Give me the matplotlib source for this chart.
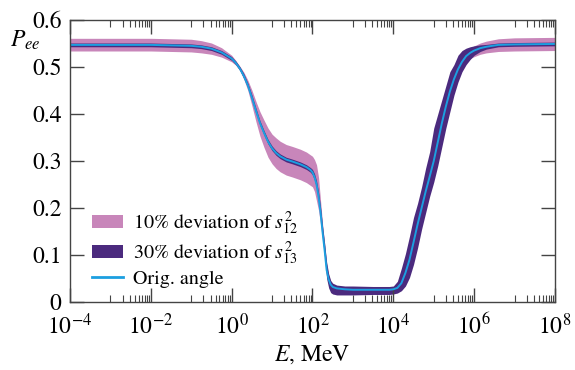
import numpy as np
import matplotlib
matplotlib.use("Agg")
import matplotlib.pyplot as plt
from matplotlib.patches import Patch
from matplotlib.lines import Line2D

plt.rcParams['font.family'] = ['STIXGeneral', 'DejaVu Serif']
plt.rcParams['mathtext.fontset'] = 'stix'

# log10(E / MeV)
log_e = [-4, -2, -1.5, -1, -0.75, -0.5, -0.25, 0, 0.1, 0.2, 0.3, 0.4, 0.5, 0.6, 0.7, 0.8,
         0.9, 1.0, 1.1, 1.2, 1.35, 1.5, 1.7, 1.85, 1.95, 2.0, 2.05, 2.1, 2.15, 2.2, 2.25,
         2.3, 2.35, 2.4, 2.45, 2.5, 2.6, 2.8, 3.0, 3.5, 3.9, 4.0, 4.1, 4.2, 4.3, 4.4, 4.5,
         4.6, 4.7, 4.8, 4.9, 5.0, 5.1, 5.2, 5.3, 5.4, 5.5, 5.6, 5.7, 5.8, 5.9, 6.0, 6.15,
         6.3, 6.6, 7.0, 8.0]

p_orig = [0.547, 0.547, 0.546, 0.545, 0.543, 0.539, 0.531, 0.518, 0.509, 0.497, 0.481,
          0.461, 0.435, 0.407, 0.381, 0.360, 0.341, 0.327, 0.317, 0.310, 0.303, 0.299,
          0.293, 0.287, 0.281, 0.276, 0.266, 0.250, 0.224, 0.190, 0.148, 0.110, 0.068,
          0.048, 0.037, 0.032, 0.029, 0.027, 0.026, 0.026, 0.026, 0.027, 0.030, 0.040,
          0.062, 0.090, 0.127, 0.165, 0.200, 0.235, 0.267, 0.300, 0.340, 0.380, 0.416,
          0.448, 0.474, 0.495, 0.511, 0.523, 0.530, 0.535, 0.540, 0.543, 0.547, 0.548, 0.549]

s12_lo = [0.534, 0.534, 0.533, 0.532, 0.530, 0.527, 0.521, 0.511, 0.504, 0.493, 0.474,
          0.450, 0.418, 0.384, 0.353, 0.329, 0.308, 0.294, 0.284, 0.277, 0.270, 0.266,
          0.260, 0.254, 0.248, 0.245, 0.235, 0.215, 0.195, 0.165, 0.130, 0.095, 0.058,
          0.042, 0.033, 0.029, 0.026, 0.024, 0.023, 0.023, 0.023, 0.024, 0.026, 0.034,
          0.056, 0.084, 0.121, 0.159, 0.194, 0.229, 0.261, 0.294, 0.334, 0.374, 0.410,
          0.442, 0.468, 0.489, 0.503, 0.512, 0.518, 0.522, 0.527, 0.530, 0.533, 0.534, 0.535]
s12_hi = [0.561, 0.561, 0.560, 0.559, 0.556, 0.551, 0.541, 0.525, 0.514, 0.502, 0.489,
          0.472, 0.451, 0.427, 0.405, 0.387, 0.370, 0.357, 0.349, 0.342, 0.335, 0.331,
          0.325, 0.319, 0.313, 0.310, 0.303, 0.292, 0.265, 0.215, 0.165, 0.125, 0.080,
          0.056, 0.042, 0.036, 0.032, 0.030, 0.029, 0.029, 0.029, 0.030, 0.034, 0.046,
          0.068, 0.096, 0.133, 0.171, 0.206, 0.241, 0.273, 0.306, 0.346, 0.386, 0.422,
          0.454, 0.480, 0.501, 0.519, 0.530, 0.538, 0.545, 0.551, 0.555, 0.560, 0.562, 0.563]

s13_lo = [0.543, 0.543, 0.542, 0.541, 0.539, 0.535, 0.527, 0.514, 0.505, 0.493, 0.476,
          0.456, 0.429, 0.401, 0.376, 0.355, 0.336, 0.322, 0.312, 0.305, 0.298, 0.294,
          0.288, 0.282, 0.276, 0.270, 0.259, 0.242, 0.214, 0.178, 0.135, 0.095, 0.050,
          0.030, 0.020, 0.017, 0.015, 0.015, 0.015, 0.016, 0.016, 0.017, 0.019, 0.024,
          0.034, 0.052, 0.080, 0.115, 0.155, 0.190, 0.225, 0.255, 0.290, 0.330, 0.370,
          0.405, 0.440, 0.468, 0.490, 0.505, 0.516, 0.525, 0.533, 0.538, 0.543, 0.544, 0.545]
s13_hi = [0.551, 0.551, 0.550, 0.549, 0.547, 0.543, 0.535, 0.522, 0.513, 0.501, 0.486,
          0.466, 0.441, 0.413, 0.386, 0.365, 0.346, 0.332, 0.322, 0.315, 0.308, 0.304,
          0.298, 0.292, 0.286, 0.282, 0.273, 0.258, 0.234, 0.202, 0.161, 0.125, 0.085,
          0.060, 0.046, 0.040, 0.036, 0.034, 0.034, 0.033, 0.033, 0.034, 0.044, 0.072,
          0.103, 0.140, 0.180, 0.210, 0.245, 0.285, 0.320, 0.370, 0.400, 0.430, 0.460,
          0.490, 0.505, 0.525, 0.535, 0.540, 0.543, 0.545, 0.547, 0.548, 0.551, 0.552, 0.553]

c_s12 = '#c886ba'
c_s13 = '#4b2a7e'
c_orig = '#1c9fe0'

energy = [10.0 ** v for v in log_e]

fig = plt.figure(figsize=(5.75, 3.70), dpi=100)
ax = fig.add_axes([0.1217, 0.1838, 0.8435, 0.7622])

ax.fill_between(energy, s12_lo, s12_hi, color=c_s12, lw=0)
ax.fill_between(energy, s13_lo, s13_hi, color=c_s13, lw=0)
ax.plot(energy, p_orig, color=c_orig, lw=1.4)

ax.set_xscale('log')
ax.set_xlim(1e-4, 1e8)
ax.set_ylim(0, 0.6)
major_x = [1e-4, 1e-2, 1e0, 1e2, 1e4, 1e6, 1e8]
ax.set_xticks(major_x)
ax.set_xticklabels([r'$10^{-4}$', r'$10^{-2}$', r'$10^{0}$', r'$10^{2}$',
                    r'$10^{4}$', r'$10^{6}$', r'$10^{8}$'])
minor_x = [m * 10.0 ** d for d in (-3, -1, 1, 3, 5, 7) for m in range(1, 10)]
ax.set_xticks(minor_x, minor=True)
ax.set_xticklabels([], minor=True)
ax.set_yticks([0, 0.1, 0.2, 0.3, 0.4, 0.5, 0.6])
ax.set_yticklabels(['0', '0.1', '0.2', '0.3', '0.4', '0.5', '0.6'])

ax.tick_params(axis='both', which='major', direction='in', length=10, width=1.0,
               top=True, right=True, labelsize=17, color='#444444')
ax.tick_params(axis='x', which='major', pad=8)
ax.tick_params(axis='y', which='major', pad=6)
ax.tick_params(axis='both', which='minor', direction='in', length=5, width=0.8,
               top=True, right=True, color='#444444')
for s in ax.spines.values():
    s.set_color('#444444')
    s.set_linewidth(1.0)

ax.set_xlabel(r'$E$, MeV', fontsize=17, labelpad=3)
fig.text(0.017, 0.89, r'$P_{ee}$', fontsize=17, ha='left', va='center')

handles = [Patch(color=c_s12, lw=0), Patch(color=c_s13, lw=0),
           Line2D([], [], color=c_orig, lw=2)]
labels = [r'10% deviation of $s_{12}^2$', r'30% deviation of $s_{13}^2$', 'Orig. angle']
ax.legend(handles, labels, loc='lower left', bbox_to_anchor=(0.028, 0.022), frameon=False,
          fontsize=14.5, handlelength=1.55, handleheight=0.6, handletextpad=0.5,
          labelspacing=0.15, borderaxespad=0)

fig.savefig('out.png', dpi=100)
